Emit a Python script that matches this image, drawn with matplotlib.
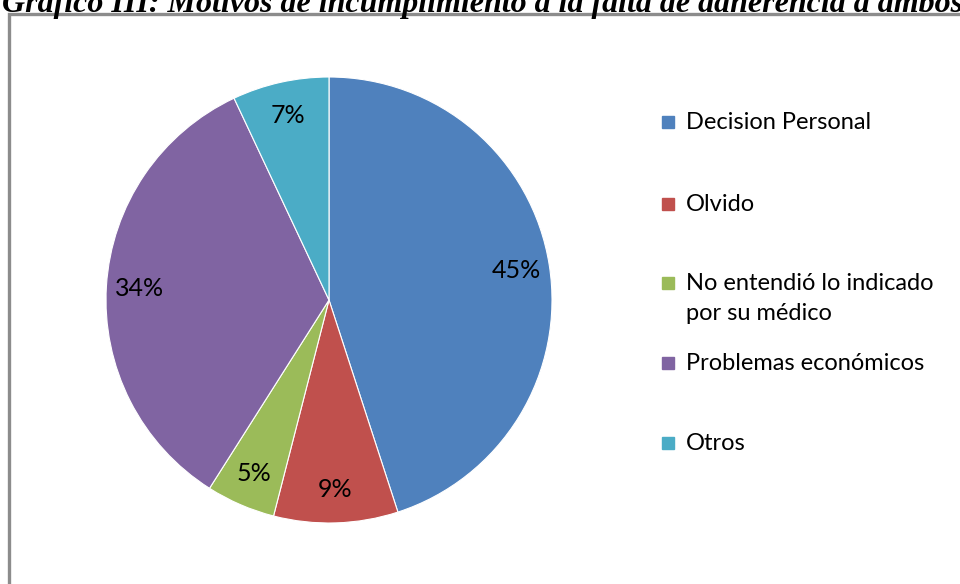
import matplotlib
matplotlib.use("Agg")
import matplotlib.pyplot as plt
from matplotlib.patches import Rectangle

TITLE = "Gráfico III: Motivos de incumplimiento a la falta de adherencia a ambos"
categories = [
    "Decision Personal",
    "Olvido",
    "No entendió lo indicado\npor su médico",
    "Problemas económicos",
    "Otros",
]
percentages = [45, 9, 5, 34, 7]
colors = ["#4F81BD", "#C0504D", "#9BBB59", "#8064A2", "#4BACC6"]

plt.rcParams["font.family"] = ["Lato", "DejaVu Sans"]

W, H = 960, 584
fig = plt.figure(figsize=(W / 100, H / 100), dpi=100)
fig.patch.set_facecolor("white")

# chart border (only the top and left edges fall inside the canvas)
fig.patches.append(Rectangle((9 / W, -0.05), 1.1, 1 - 13.5 / H + 0.05,
                             transform=fig.transFigure, fill=False,
                             edgecolor="#8C8C8C", linewidth=2.4))

# caption sitting above the border, partly cut by the page edge
fig.text(2 / W, 1 - 12 / H, TITLE, family="Liberation Serif", fontsize=23,
         fontweight="bold", fontstyle="italic", va="baseline", ha="left")

cx, cy, r = 329, 300, 223
ax = fig.add_axes([(cx - r) / W, (H - cy - r) / H, 2 * r / W, 2 * r / H])
wedges, _, autotexts = ax.pie(
    percentages, colors=colors, startangle=90, counterclock=False, radius=1,
    autopct="%d%%", pctdistance=0.85,
    wedgeprops=dict(edgecolor="white", linewidth=0.8),
    textprops=dict(fontsize=18, color="black"))
ax.set_xlim(-1, 1)
ax.set_ylim(-1, 1)
ax.set_aspect("equal")
ax.axis("off")

# legend drawn by hand to keep the uneven vertical spacing
legend_y = [122, 204, 283, 363, 443]
for label, color, y in zip(categories, colors, legend_y):
    fig.patches.append(Rectangle((662 / W, 1 - (y + 6) / H), 12 / W, 12 / H,
                                 transform=fig.transFigure, color=color))
    fig.text(686 / W, 1 - (y - 10) / H, label, fontsize=17, color="black",
             va="top", ha="left", linespacing=1.5)

fig.savefig("out.png", dpi=100)
